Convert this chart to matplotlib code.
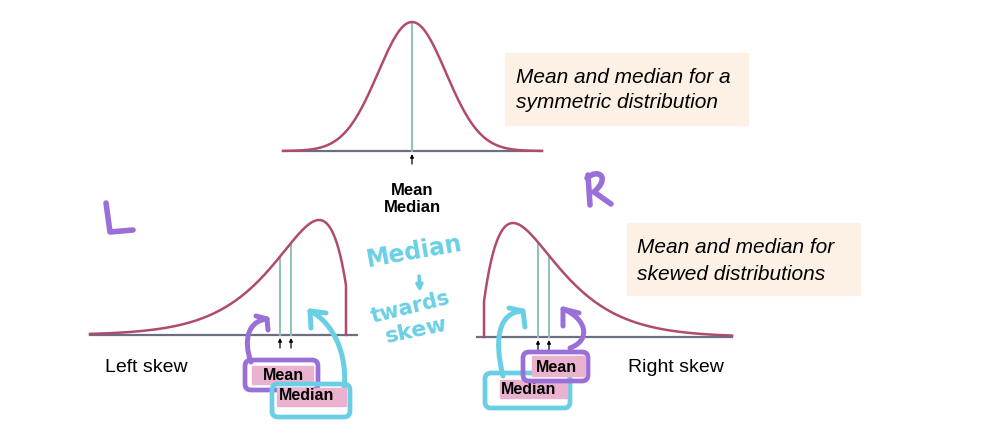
import numpy as np
import matplotlib
matplotlib.use("Agg")
import matplotlib.pyplot as plt
from matplotlib.patches import FancyBboxPatch, Rectangle, PathPatch
from matplotlib.path import Path

# symmetric curve (normal)
sym_center = 412
sym_sd = 34
sym_peak = 129
sym_base = 151
sym_span = (283, 542)

# skewed curves (gamma shape, mirrored for the left one)
skew_k = 1.95
skew_theta = 34.7
left_origin = 352
left_span = (90, 346)
left_axis = (90, 357)
left_base = 335
left_peak = 115
right_origin = 480
right_span = (484, 732)
right_axis = (477, 732)
right_base = 337
right_peak = 114

left_marks = [("Mean", 280), ("Median", 291)]
right_marks = [("Median", 538), ("Mean", 549)]

CURVE = "#b04a6e"
AXIS = "#6b6f80"
TEAL = "#8ec3b8"
PINK = "#eab2cf"
PURPLE = "#9b6fd8"
CYAN = "#6acfe5"
BEIGE = "#fdf1e5"

plt.rcParams['font.family'] = ['Liberation Sans', 'DejaVu Sans']

fig = plt.figure(figsize=(9.9, 4.26), dpi=100)
ax = fig.add_axes([0, 0, 1, 1])
ax.set_xlim(0, 990)
ax.set_ylim(426, 0)
ax.axis("off")


def normal_h(x):
    return sym_peak * np.exp(-0.5 * ((x - sym_center) / sym_sd) ** 2)


def gamma_h(d, peak):
    m = (skew_k - 1) * skew_theta
    d = np.maximum(d, 1e-6)
    return peak * (d / m) ** (skew_k - 1) * np.exp(-(d - m) / skew_theta)


def left_h(x):
    return gamma_h(left_origin - np.asarray(x, float), left_peak)


def right_h(x):
    return gamma_h(np.asarray(x, float) - right_origin, right_peak)


def tick_arrow(x, base):
    ax.annotate("", xy=(x, base + 3), xytext=(x, base + 13),
                arrowprops=dict(arrowstyle="-|>", lw=0.9, color="black",
                                mutation_scale=5, shrinkA=0, shrinkB=0))


# top symmetric distribution
ax.plot(sym_span, [sym_base, sym_base], color=AXIS, lw=1.6, zorder=2)
xs = np.linspace(*sym_span, 300)
ax.plot([sym_center, sym_center], [sym_base, sym_base - sym_peak], color=TEAL, lw=1.4, zorder=2)
ax.plot(xs, sym_base - normal_h(xs), color=CURVE, lw=1.8, zorder=3)
tick_arrow(sym_center, sym_base)
ax.text(sym_center, 195, "Mean", ha="center", va="baseline", fontsize=12, fontweight="bold")
ax.text(sym_center, 212, "Median", ha="center", va="baseline", fontsize=12, fontweight="bold")

# left skew
ax.plot(left_axis, [left_base, left_base], color=AXIS, lw=1.6, zorder=2)
xs = np.linspace(*left_span, 300)
ys = left_base - left_h(xs)
ax.plot(np.append(xs, left_span[1]), np.append(ys, left_base), color=CURVE, lw=1.8, zorder=3)
for name, x in left_marks:
    ax.plot([x, x], [left_base, left_base - left_h(x)], color=TEAL, lw=1.4, zorder=2)
    tick_arrow(x, left_base)

# right skew
ax.plot(right_axis, [right_base, right_base], color=AXIS, lw=1.6, zorder=2)
xs = np.linspace(*right_span, 300)
ys = right_base - right_h(xs)
ax.plot(np.insert(xs, 0, right_span[0]), np.insert(ys, 0, right_base), color=CURVE, lw=1.8, zorder=3)
for name, x in right_marks:
    ax.plot([x, x], [right_base, right_base - right_h(x)], color=TEAL, lw=1.4, zorder=2)
    tick_arrow(x, right_base)

ax.text(105, 372, "Left skew", ha="left", va="baseline", fontsize=14)
ax.text(628, 372, "Right skew", ha="left", va="baseline", fontsize=14)

# caption boxes
ax.add_patch(Rectangle((505, 53), 243, 72, color=BEIGE, zorder=1))
ax.text(516, 83, "Mean and median for a", style="italic", fontsize=15, va="baseline")
ax.text(516, 108, "symmetric distribution", style="italic", fontsize=15, va="baseline")
ax.add_patch(Rectangle((627, 223), 233, 72, color=BEIGE, zorder=1))
ax.text(637, 253, "Mean and median for", style="italic", fontsize=15, va="baseline")
ax.text(637, 280, "skewed distributions", style="italic", fontsize=15, va="baseline")


# hand-drawn annotations
def stroke(pts, codes, color, lw=3.6, z=6):
    p = Path(pts, codes)
    ax.add_patch(PathPatch(p, fc="none", ec=color, lw=lw, capstyle="round",
                           joinstyle="round", zorder=z))


def hand_arrow(start, c1, c2, tip, w1, w2, color):
    stroke([start, c1, c2, tip], [Path.MOVETO, Path.CURVE4, Path.CURVE4, Path.CURVE4], color)
    stroke([w1, tip, w2], [Path.MOVETO, Path.LINETO, Path.LINETO], color)


def label_box(outline, fill, text, tc, color, z):
    x0, y0, x1, y1 = outline
    ax.add_patch(FancyBboxPatch((x0, y0), x1 - x0, y1 - y0,
                                boxstyle="round,pad=0,rounding_size=6",
                                fc="none", ec=color, lw=3.4, zorder=z))
    fx0, fy0, fx1, fy1 = fill
    ax.add_patch(Rectangle((fx0, fy0), fx1 - fx0, fy1 - fy0, color=PINK, zorder=z + 0.1))
    ax.text(tc[0], tc[1], text, ha="center", va="center", fontsize=11.5,
            fontweight="bold", zorder=z + 0.2)


# L and R
stroke([(106, 203), (110, 232), (133, 230)], [Path.MOVETO, Path.LINETO, Path.LINETO], PURPLE, lw=4)
stroke([(588, 175), (590, 205)], [Path.MOVETO, Path.LINETO], PURPLE, lw=4)
stroke([(587, 178), (598, 168), (611, 177), (594, 192)],
       [Path.MOVETO, Path.CURVE4, Path.CURVE4, Path.CURVE4], PURPLE, lw=4)
stroke([(594, 192), (611, 204)], [Path.MOVETO, Path.LINETO], PURPLE, lw=4)

# left-skew labels
label_box((245, 360, 318, 390), (252, 366, 313, 384), "Mean", (283, 375), PURPLE, 7)
label_box((272, 384, 350, 417), (277, 388, 346, 406), "Median", (307, 396), CYAN, 8)
hand_arrow((251, 362), (243, 340), (248, 321), (267, 319), (256, 316), (268, 330), PURPLE)
hand_arrow((344, 388), (348, 355), (333, 322), (310, 311), (326, 313), (311, 328), CYAN)

# right-skew labels
label_box((485, 373, 570, 408), (500, 380, 567, 398), "Median", (529, 389), CYAN, 7)
label_box((523, 352, 588, 381), (532, 356, 585, 376), "Mean", (556, 368), PURPLE, 8)
hand_arrow((570, 348), (592, 340), (586, 318), (563, 309), (579, 313), (563, 326), PURPLE)
hand_arrow((503, 376), (494, 340), (498, 312), (523, 311), (509, 308), (525, 327), CYAN)

# handwritten note
ax.text(414, 252, "Median", ha="center", va="center", color=CYAN, fontsize=17,
        fontweight="bold", rotation=10, family="DejaVu Sans")
ax.annotate("", xy=(420, 292), xytext=(419, 276),
            arrowprops=dict(arrowstyle="-|>", lw=2.5, color=CYAN, mutation_scale=9,
                            shrinkA=0, shrinkB=0))
ax.text(411, 307, "twards", ha="center", va="center", color=CYAN, fontsize=15,
        fontweight="bold", rotation=14, family="DejaVu Sans")
ax.text(416, 331, "skew", ha="center", va="center", color=CYAN, fontsize=16,
        fontweight="bold", rotation=12, family="DejaVu Sans")

fig.savefig("out.png", dpi=100)
